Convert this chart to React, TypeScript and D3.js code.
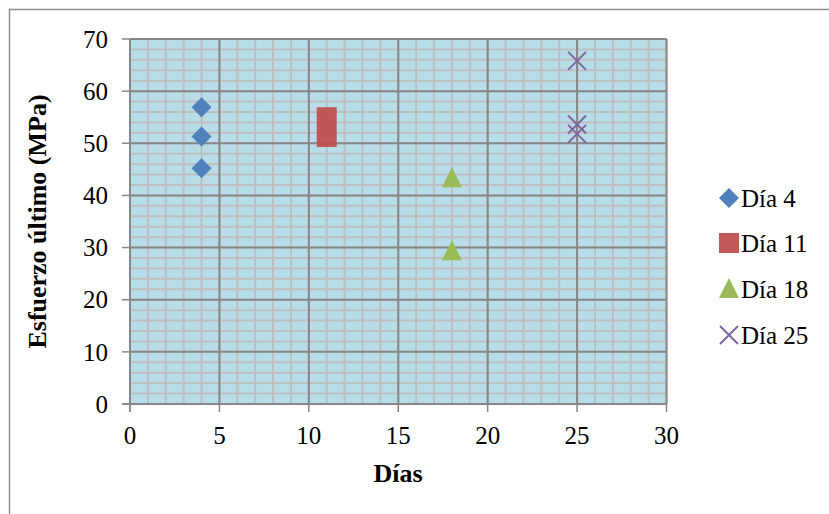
import React from "react";
import * as d3 from "d3";

const xTicks = [0, 5, 10, 15, 20, 25, 30];
const yTicks = [0, 10, 20, 30, 40, 50, 60, 70];

const dia4X = [4, 4, 4];
const dia4Y = [56.9, 51.3, 45.2];
const dia11X = [11, 11];
const dia11Y = [55.0, 51.2];
const dia18X = [18, 18];
const dia18Y = [43.3, 29.3];
const dia25X = [25, 25, 25];
const dia25Y = [65.8, 53.6, 51.8];

const seriesNames = ["Día 4", "Día 11", "Día 18", "Día 25"];
const colors = ["#4F81BD", "#C0504D", "#9BBB59", "#8064A2"];

const W = 829;
const H = 514;
const left = 130;
const right = 666.5;
const top = 39;
const bottom = 404;

function Marker({ kind, x, y, color }: { kind: number; x: number; y: number; color: string }) {
  if (kind === 0) {
    const s = 10;
    return <path d={`M${x},${y - s}L${x + s},${y}L${x},${y + s}L${x - s},${y}Z`} fill={color} />;
  }
  if (kind === 1) {
    return <rect x={x - 10} y={y - 10} width={20} height={20} fill={color} fillOpacity={0.95} />;
  }
  if (kind === 2) {
    return <path d={`M${x},${y - 11}L${x + 10},${y + 9}L${x - 10},${y + 9}Z`} fill={color} />;
  }
  const s = 9;
  return (
    <path
      d={`M${x - s},${y - s}L${x + s},${y + s}M${x - s},${y + s}L${x + s},${y - s}`}
      stroke={color}
      strokeWidth={2}
      fill="none"
    />
  );
}

export default function App() {
  const x = d3.scaleLinear().domain([0, 30]).range([left, right]);
  const y = d3.scaleLinear().domain([0, 70]).range([bottom, top]);
  const xMinor = d3.range(0, 31, 1);
  const yMinor = d3.range(0, 71, 2);
  const series = [
    { xs: dia4X, ys: dia4Y },
    { xs: dia11X, ys: dia11Y },
    { xs: dia18X, ys: dia18Y },
    { xs: dia25X, ys: dia25Y },
  ];
  const font = "'Liberation Serif', 'Times New Roman', serif";
  const legendY = [198, 243, 289, 335];

  return (
    <svg
      width={W}
      height={H}
      style={{ position: "absolute", left: 0, top: 0, background: "#fff" }}
      fontFamily={font}
    >
      <rect x={9.5} y={9.5} width={W + 20} height={H + 20} fill="#fff" stroke="#8c8c8c" strokeWidth={1.5} />
      <rect x={left} y={top} width={right - left} height={bottom - top} fill="#B7DEE8" />
      {xMinor.map((v) => (
        <line key={"xm" + v} x1={x(v)} x2={x(v)} y1={top} y2={bottom} stroke="#BFBFBF" strokeWidth={2} />
      ))}
      {yMinor.map((v) => (
        <line key={"ym" + v} x1={left} x2={right} y1={y(v)} y2={y(v)} stroke="#BFBFBF" strokeWidth={2} />
      ))}
      {xTicks.map((v) => (
        <line key={"xM" + v} x1={x(v)} x2={x(v)} y1={top} y2={bottom} stroke="#878787" strokeWidth={2} />
      ))}
      {yTicks.map((v) => (
        <line key={"yM" + v} x1={left} x2={right} y1={y(v)} y2={y(v)} stroke="#878787" strokeWidth={2} />
      ))}
      <line x1={left} x2={left} y1={top} y2={bottom + 8} stroke="#878787" strokeWidth={1.5} />
      <line x1={left - 8} x2={right} y1={bottom} y2={bottom} stroke="#878787" strokeWidth={1.5} />
      {yTicks.map((v) => (
        <g key={"yt" + v}>
          <line x1={left - 8} x2={left} y1={y(v)} y2={y(v)} stroke="#878787" strokeWidth={1.5} />
          <text x={108} y={y(v)} dy="0.35em" textAnchor="end" fontSize={25} fill="#000">
            {v}
          </text>
        </g>
      ))}
      {xTicks.map((v) => (
        <g key={"xt" + v}>
          <line x1={x(v)} x2={x(v)} y1={bottom} y2={bottom + 8} stroke="#878787" strokeWidth={1.5} />
          <text x={x(v)} y={444} textAnchor="middle" fontSize={25} fill="#000">
            {v}
          </text>
        </g>
      ))}
      {series.map((s, i) =>
        s.xs.map((xv, j) => (
          <Marker key={i + "-" + j} kind={i} x={x(xv)} y={y(s.ys[j])} color={colors[i]} />
        ))
      )}
      <text x={398} y={482} textAnchor="middle" fontSize={26} fontWeight="bold" fill="#000">
        Días
      </text>
      <text
        transform={`translate(37, ${(top + bottom) / 2}) rotate(-90)`}
        textAnchor="middle"
        dy="0.35em"
        fontSize={26}
        fontWeight="bold"
        fill="#000"
      >
        Esfuerzo último (MPa)
      </text>
      {seriesNames.map((n, i) => (
        <g key={n}>
          <Marker kind={i} x={729} y={legendY[i]} color={colors[i]} />
          <text x={741} y={legendY[i]} dy="0.35em" fontSize={25} fill="#000">
            {n}
          </text>
        </g>
      ))}
    </svg>
  );
}
